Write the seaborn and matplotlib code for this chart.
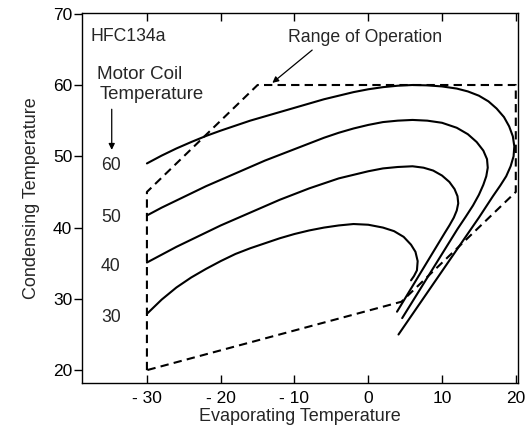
import numpy as np
import pandas as pd
import matplotlib
matplotlib.use("Agg")
import matplotlib.pyplot as plt
import seaborn as sns

# ---- data ----
curve30_x = [-30, -28, -26, -24, -22, -20, -18, -16, -14, -12, -10, -8, -6, -4, -2, 0, 2, 3.5, 4.8,
             5.8, 6.4, 6.7, 6.6, 6.2, 5.8]
curve30_y = [27.9, 29.9, 31.6, 33.0, 34.2, 35.3, 36.3, 37.1, 37.8, 38.5, 39.1, 39.6, 40.0, 40.3, 40.5, 40.4, 40.0, 39.5, 38.7,
             37.6, 36.6, 35.3, 34.0, 33.2, 32.6]

curve40_x = [-30, -28, -26, -24, -22, -20, -18, -16, -14, -12, -10, -8, -6, -4, -2, 0, 2, 4, 6,
             7.5, 8.8, 10, 11, 11.7, 12.1, 12.2, 12.0, 11.6, 11.0, 10.4, 3.9]
curve40_y = [35.1, 36.2, 37.3, 38.3, 39.3, 40.3, 41.2, 42.1, 43.0, 43.9, 44.7, 45.5, 46.2, 46.9, 47.4, 47.9, 48.3, 48.5, 48.6,
             48.4, 48.0, 47.3, 46.4, 45.4, 44.4, 43.4, 42.4, 41.4, 40.3, 39.3, 28.2]

curve50_x = [-30, -28, -26, -24, -22, -20, -18, -16, -14, -12, -10, -8, -6, -4, -2, 0, 2, 4, 6, 8, 10,
             12, 13.5, 14.7, 15.6, 16.1, 16.2, 16.0, 15.6, 15.0, 14.2, 13.2, 12.1, 4.6]
curve50_y = [41.7, 42.8, 43.8, 44.8, 45.8, 46.7, 47.6, 48.5, 49.4, 50.2, 51.0, 51.8, 52.6, 53.3, 53.9, 54.4, 54.8, 55.0, 55.1, 55.0, 54.7,
             54.0, 53.1, 52.0, 50.8, 49.6, 48.4, 47.2, 46.0, 44.6, 43.1, 41.5, 39.8, 27.3]

curve60_x = [-30, -28, -26, -24, -22, -20, -18, -16, -14, -12, -10, -8, -6, -4, -2, 0, 2, 4, 6, 8, 10,
             12, 13.5, 15, 16.3, 17.4, 18.4, 19.1, 19.6, 19.8, 19.7, 19.3, 18.7, 17.9, 16.9, 15.0, 13.0, 4.1]
curve60_y = [49.0, 50.1, 51.1, 52.0, 52.85, 53.6, 54.3, 55.0, 55.6, 56.2, 56.8, 57.4, 58.0, 58.5, 59.0, 59.4, 59.7, 59.9, 60.0, 59.95, 59.8,
             59.5, 59.1, 58.5, 57.7, 56.7, 55.5, 54.2, 52.8, 51.4, 50.0, 48.6, 47.2, 45.9, 44.4, 41.4, 38.4, 25.0]

range_x = [-30, -30, -15, 20, 20, 4.5, -30]
range_y = [20, 45, 60, 60, 45, 29.6, 20]

coil_labels = ["60", "50", "40", "30"]
coil_label_y = [48.7, 41.4, 34.5, 27.4]

xticks = [-30, -20, -10, 0, 10, 20]
xtick_labels = ["- 30", "- 20", "- 10", "0", "10", "20"]
yticks = [20, 30, 40, 50, 60, 70]

# ---- plotting ----
sns.set_style("white")
plt.rcParams['font.family'] = ['Liberation Sans', 'DejaVu Sans']

fig = plt.figure(figsize=(5.29, 4.32), dpi=100)
ax = fig.add_axes([82/529, 1-383/432, (518-82)/529, (383-13)/432])

curves = [(curve30_x, curve30_y), (curve40_x, curve40_y), (curve50_x, curve50_y), (curve60_x, curve60_y)]
for cx, cy in curves:
    df = pd.DataFrame({"x": cx, "y": cy})
    sns.lineplot(data=df, x="x", y="y", sort=False, estimator=None, ax=ax,
                 color="black", lw=1.5)

dfr = pd.DataFrame({"x": range_x, "y": range_y})
sns.lineplot(data=dfr, x="x", y="y", sort=False, estimator=None, ax=ax,
             color="black", lw=1.5, linestyle=(0, (4, 2.5)))

ax.set_xlim(-38.8, 20.3)
ax.set_ylim(18.2, 70.1)
ax.set_xticks(xticks)
ax.set_xticklabels(xtick_labels)
ax.set_yticks(yticks)

for sp in ax.spines.values():
    sp.set_visible(True)
    sp.set_color("black")
    sp.set_linewidth(1.0)

ax.tick_params(axis="x", direction="in", top=True, bottom=True, length=5.5, width=1,
               labelsize=12.5, pad=5.5, colors="black")
ax.tick_params(axis="y", direction="out", left=True, right=False, length=5.5, width=1,
               labelsize=12.5, pad=1.5, colors="black")

ax.set_xlabel("Evaporating Temperature", fontsize=13, labelpad=2)
ax.set_ylabel("Condensing Temperature", fontsize=13, labelpad=9)

ax.text(-37.6, 66.85, "HFC134a", fontsize=12.7, ha="left", va="center")
ax.text(-36.8, 61.5, "Motor Coil", fontsize=13.6, ha="left", va="center")
ax.text(-36.4, 58.6, "Temperature", fontsize=13.4, ha="left", va="center")
ax.annotate("", xy=(-34.77, 50.9), xytext=(-34.77, 56.6),
            arrowprops=dict(arrowstyle="-|>", lw=0.9, color="black", mutation_scale=9,
                            shrinkA=0, shrinkB=0))
for lab, ly in zip(coil_labels, coil_label_y):
    ax.text(-34.9, ly, lab, fontsize=12.7, ha="center", va="center")

ax.text(-0.47, 66.6, "Range of Operation", fontsize=12.7, ha="center", va="center")
ax.annotate("", xy=(-13.0, 60.3), xytext=(-7.6, 64.9),
            arrowprops=dict(arrowstyle="-|>", lw=0.9, color="black", mutation_scale=9,
                            shrinkA=0, shrinkB=0))

fig.savefig("out.png", dpi=100)
